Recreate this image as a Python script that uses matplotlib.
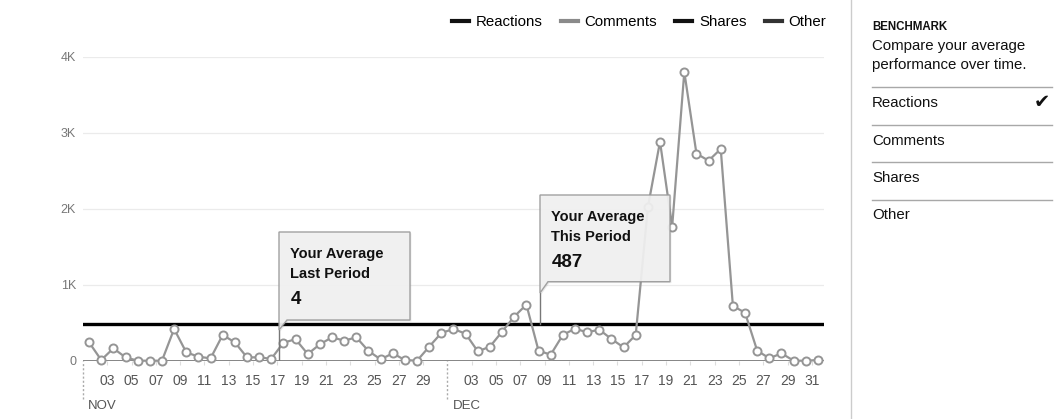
import matplotlib
matplotlib.use('Agg')
import matplotlib.pyplot as plt
import matplotlib.dates as mdates
import matplotlib.patches as mpatches
import matplotlib.patheffects as pe
from matplotlib.lines import Line2D
import numpy as np
import pandas as pd

plt.rcParams['font.family'] = ['Liberation Sans', 'DejaVu Sans']

# daily values (Nov 1 .. Dec 31)
nov_values = [242, 9, 163, 44, 0, 0, 0, 418, 110, 53, 31, 339, 242, 44, 44,
              25, 238, 282, 88, 216, 308, 264, 308, 128, 18, 97, 9, 0, 185, 365]
dec_values = [418, 355, 123, 185, 383, 581, 739, 132, 79, 339, 422, 374, 409, 286, 176,
              339, 2020, 2885, 1765, 3804, 2727, 2635, 2789, 721, 632, 132, 32, 97, 0, 0, 9]
avg_this_period = 487
avg_last_period = 4

legend_labels = ['Reactions', 'Comments', 'Shares', 'Other']
legend_colors = ['#111111', '#8a8a8a', '#111111', '#333333']
month_labels = ['NOV', 'DEC']
ytick_vals = [0, 1000, 2000, 3000, 4000]
ytick_labels = ['0', '1K', '2K', '3K', '4K']
panel_items = ['Reactions', 'Comments', 'Shares', 'Other']

W, H = 1059, 419
fig = plt.figure(figsize=(W / 100, H / 100), dpi=100)

def fx(x):
    return x / W

def fy(y):
    return 1 - y / H

ax = fig.add_axes([fx(83), fy(360.7), 741 / W, (360.7 - 57) / H])

dates = pd.date_range('2017-11-01 12:00', periods=61, freq='D')
values = nov_values + dec_values
start = mdates.date2num(np.datetime64('2017-11-01'))
month_starts = [start, mdates.date2num(np.datetime64('2017-12-01'))]

# grid + baseline
for v in ytick_vals[1:]:
    ax.axhline(v, color='#ebebeb', lw=0.9, zorder=1)
ax.axhline(0, color='#7a7a7a', lw=2, zorder=2)
ax.axhline(avg_this_period, color='black', lw=2.4, zorder=3)

ax.plot(dates.values, values, color='#959595', lw=1.6, marker='o', ms=5.8,
        mfc='white', mec='#959595', mew=1.4, clip_on=False, zorder=4)

ax.set_xlim(start, start + 61)
ax.set_ylim(0, 4000)
for s in ax.spines.values():
    s.set_visible(False)

ax.set_yticks(ytick_vals)
ax.set_yticklabels(ytick_labels)
ax.tick_params(axis='y', length=0, pad=5, labelsize=9, labelcolor='#777777')

ax.xaxis.set_major_locator(mdates.DayLocator(bymonthday=range(3, 32, 2)))
ax.xaxis.set_major_formatter(mdates.DateFormatter('%d'))
ax.tick_params(axis='x', length=3, width=0.8, color='#dddddd', pad=6.5,
               labelsize=10, labelcolor='#555555')

for m, lab in zip(month_starts, month_labels):
    ax.axvline(m, ymin=-0.125, ymax=0, clip_on=False, color='#aaaaaa',
               lw=1, ls=(0, (1.5, 1.5)), zorder=2)
    ax.annotate(lab, xy=(m, 0), xycoords=('data', 'axes fraction'),
                xytext=(5, -45), textcoords='offset pixels', va='center',
                ha='left', fontsize=9.5, color='#555555')

# callouts
day_px = 741 / 61.0
px_val = 4000 / (360.7 - 57)

def callout(left_px, right_px, top_px, bottom_px, tip_px, target, lines, number):
    x0 = start + (left_px - 83) / day_px
    x1 = start + (right_px - 83) / day_px
    top = (360.7 - top_px) * px_val
    bot = (360.7 - bottom_px) * px_val
    tip = (360.7 - tip_px) * px_val
    tw = 8 / day_px
    poly = mpatches.Polygon([(x0, top), (x1, top), (x1, bot), (x0 + tw, bot), (x0, tip)],
                            closed=True, fc='#f1f1f1', ec='#9a9a9a', lw=1,
                            alpha=0.93, zorder=6, clip_on=False)
    poly.set_path_effects([pe.SimplePatchShadow(offset=(1, -1), alpha=0.12), pe.Normal()])
    ax.add_patch(poly)
    ax.plot([x0, x0], [tip, target], color='#777777', lw=1, zorder=5)
    for i, line in enumerate(lines):
        ax.annotate(line, xy=(x0, top), xytext=(11.5, -26.4 - 20 * i),
                    textcoords='offset pixels', fontsize=10.5, fontweight='bold',
                    va='baseline', ha='left', zorder=7, color='#111111')
    ax.annotate(number, xy=(x0, top), xytext=(11.5, -72), textcoords='offset pixels',
                fontsize=13.5, fontweight='bold', va='baseline', ha='left',
                zorder=7, color='#111111')

callout(279, 410, 232, 320, 330, avg_last_period, ['Your Average', 'Last Period'], str(avg_last_period))
callout(540, 670, 195, 281.7, 293, avg_this_period, ['Your Average', 'This Period'], str(avg_this_period))

# legend
handles = [Line2D([], [], color=c, lw=3) for c in legend_colors]
ax.legend(handles, legend_labels, ncol=4, loc='upper right', frameon=False,
          bbox_to_anchor=(fx(826), fy(15)), bbox_transform=fig.transFigure,
          fontsize=10.8, handlelength=1.13, handletextpad=0.45, columnspacing=1.2,
          borderpad=0, borderaxespad=0)

# right panel
fig.add_artist(Line2D([fx(851), fx(851)], [0, 1], color='#cccccc', lw=1))
fig.text(fx(872), fy(27), 'BENCHMARK', fontsize=8.3, fontweight='bold', va='center', color='#111111')
fig.text(fx(872), fy(46), 'Compare your average', fontsize=10.8, va='center', color='#111111')
fig.text(fx(872), fy(65), 'performance over time.', fontsize=10.8, va='center', color='#111111')
for yy in [87.3, 125, 162.3, 200]:
    fig.add_artist(Line2D([fx(871.5), fx(1052)], [fy(yy), fy(yy)], color='#a8a8a8', lw=1))
for yy, item in zip([103.3, 140.5, 178.3, 215], panel_items):
    fig.text(fx(872), fy(yy), item, fontsize=10.8, va='center', color='#111111')
fig.text(fx(1042), fy(103), '\u2714', family='DejaVu Sans', fontsize=14,
         ha='center', va='center', color='#111111')

fig.savefig('out.png', dpi=100)
